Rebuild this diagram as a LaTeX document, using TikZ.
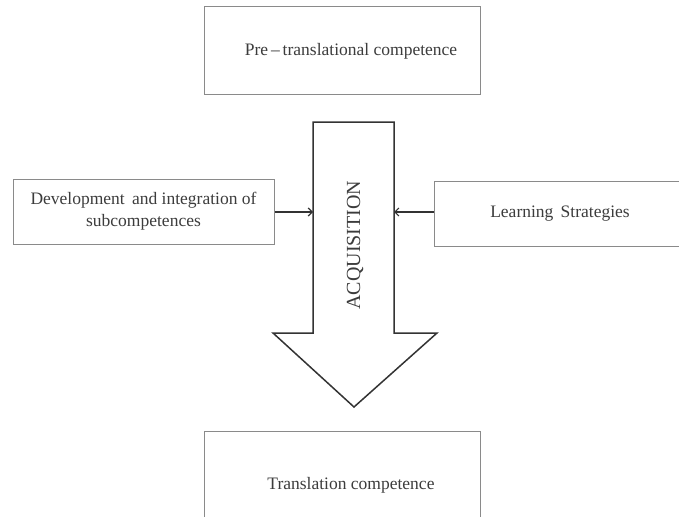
\documentclass[tikz,border=0pt]{standalone}
\usepackage{fontspec}
\setmainfont{Liberation Serif}
\usetikzlibrary{arrows.meta}

\definecolor{boxline}{HTML}{8A8A8A}
\definecolor{inkdark}{HTML}{333333}
\definecolor{textgray}{HTML}{3C3C3C}

\tikzset{
  stagebox/.style={draw=boxline, line width=1pt, fill=white, text=textgray,
    font=\fontsize{17.5}{22}\selectfont, align=center, inner sep=0pt},
  feedarrow/.style={draw=inkdark, line width=1.4pt,
    -{Straight Barb[length=4pt,width=8pt,line width=1.2pt]}},
  bigarrow/.style={draw=inkdark, line width=1.5pt, fill=white, line join=miter},
}

\begin{document}
\begin{tikzpicture}[x=1pt, y=-1pt]
  \useasboundingbox (0,0) rectangle (679,516);
  \clip (0,0) rectangle (679,516);

  % top and bottom stages (labels sit a little right of centre)
  \node[stagebox, minimum width=276pt, minimum height=88pt] (pre) at (342,51)
    {\hspace*{18pt}Pre\,--\,translational competence};
  \node[stagebox, minimum width=276pt, minimum height=108pt] (tc) at (342,485)
    {\hspace*{18pt}Translation competence};

  % side inputs
  \node[stagebox, minimum width=261pt, minimum height=65pt] (dev) at (143.5,211.5)
    {Development\, and integration of\\ subcompetences};
  \node[stagebox, minimum width=252pt, minimum height=65pt] (ls) at (560,213.5)
    {Learning\, Strategies};

  % acquisition arrow
  \coordinate (sl) at (313,122);
  \coordinate (sr) at (394,122);
  \coordinate (sbl) at (313,333);
  \coordinate (sbr) at (394,333);
  \coordinate (hl) at (273,333);
  \coordinate (hr) at (437,333);
  \coordinate (tip) at (354,407);
  \draw[bigarrow] (sl) -- (sr) -- (sbr) -- (hr) -- (tip) -- (hl) -- (sbl) -- cycle;
  \node[text=textgray, font=\fontsize{20}{24}\selectfont, rotate=90] (acq) at (355,245)
    {ACQUISITION};

  % connectors into the shaft
  \coordinate (inl) at (313,212);
  \coordinate (inr) at (394,212);
  \draw[feedarrow] (dev.east |- inl) -- (inl);
  \draw[feedarrow] (ls.west |- inr) -- (inr);
\end{tikzpicture}
\end{document}
